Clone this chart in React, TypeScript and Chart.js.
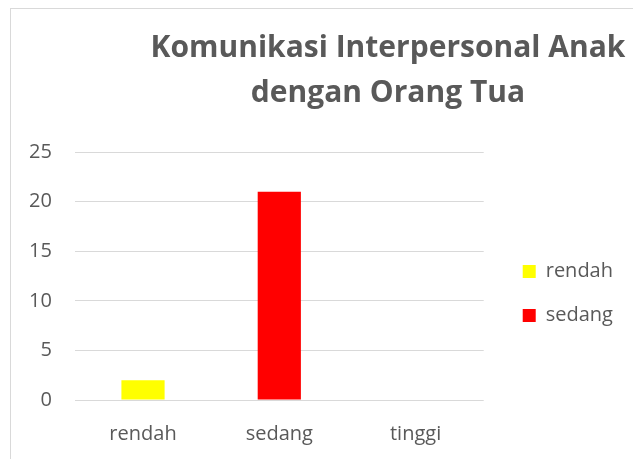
import React, { useEffect, useRef } from "react";
import { Chart, registerables } from "chart.js";

Chart.register(...registerables);

const categories = ["rendah", "sedang", "tinggi"];
const values = [2, 21, 0];
const barColors = ["#FFFF00", "#FF0000", "#FFC000"];
const legendLabels = ["rendah", "sedang"];
const legendColors = ["#FFFF00", "#FF0000"];
const yMin = 0;
const yMax = 25;
const yStep = 5;
const titleLines = ["Komunikasi Interpersonal Anak", "dengan Orang Tua"];

const TEXT = "#595959";
const GRID = "#d9d9d9";
const FONT = '"Open Sans", "Noto Sans", sans-serif';

const titlePlugin = {
  id: "excelTitle",
  afterDraw(chart: any) {
    const ctx = chart.ctx;
    ctx.save();
    ctx.font = `bold 30px ${FONT}`;
    ctx.fillStyle = TEXT;
    ctx.textAlign = "center";
    ctx.textBaseline = "alphabetic";
    titleLines.forEach((line, i) => ctx.fillText(line, 388, 57 + i * 45));
    ctx.restore();
  },
};

export default function App() {
  const ref = useRef<HTMLCanvasElement | null>(null);
  useEffect(() => {
    if (!ref.current) return;
    const chart = new Chart(ref.current, {
      type: "bar",
      data: {
        labels: categories,
        datasets: [
          {
            label: "Komunikasi",
            data: values,
            backgroundColor: barColors,
            borderWidth: 0,
            categoryPercentage: 1,
            barPercentage: 0.317,
          },
        ],
      },
      options: {
        animation: false,
        responsive: false,
        devicePixelRatio: 1,
        layout: { padding: { top: 152, bottom: 10, left: 29, right: 10 } },
        plugins: {
          title: { display: false },
          tooltip: { enabled: false },
          legend: {
            position: "right",
            align: "start",
            maxWidth: 200,
            onClick: () => {},
            title: {
              display: true,
              text: "",
              font: { family: FONT, size: 10, lineHeight: 1 },
              padding: { top: 75.5, bottom: 0 },
            },
            labels: {
              boxWidth: 13,
              boxHeight: 13,
              padding: 24,
              color: TEXT,
              font: { family: FONT, size: 20 },
              generateLabels: () =>
                legendLabels.map((t, i) => ({
                  text: t,
                  fillStyle: legendColors[i],
                  strokeStyle: legendColors[i],
                  lineWidth: 0,
                  hidden: false,
                  index: i,
                  fontColor: TEXT,
                })),
            },
          },
        },
        scales: {
          x: {
            grid: {
              display: true,
              drawOnChartArea: false,
              color: "transparent",
              tickColor: "transparent",
              drawTicks: true,
              tickLength: 20.4,
            },
            border: { display: false },
            ticks: {
              color: TEXT,
              font: { family: FONT, size: 20 },
              padding: 2.3,
              maxRotation: 0,
            },
          },
          y: {
            min: yMin,
            max: yMax,
            grid: {
              color: GRID,
              lineWidth: 1,
              tickColor: "transparent",
              drawTicks: true,
              tickLength: 23,
            },
            border: { display: false },
            ticks: {
              stepSize: yStep,
              color: TEXT,
              font: { family: FONT, size: 20 },
              padding: 0,
            },
          },
          spacer: {
            type: "linear",
            position: "right",
            display: true,
            grid: { display: false, drawTicks: false },
            border: { display: false },
            ticks: { display: false },
            afterFit: (s: any) => {
              s.width = 15;
            },
          },
        },
      },
      plugins: [titlePlugin],
    } as any);
    return () => chart.destroy();
  }, []);

  return (
    <div
      style={{
        position: "absolute",
        left: 0,
        top: 0,
        width: 633,
        height: 459,
        overflow: "hidden",
        background: "#ffffff",
      }}
    >
      <div
        style={{
          position: "absolute",
          left: 10,
          top: 8,
          width: 800,
          height: 600,
          border: `1px solid ${GRID}`,
        }}
      />
      <canvas
        ref={ref}
        width={633}
        height={459}
        style={{ position: "absolute", left: 0, top: 0, width: 633, height: 459 }}
      />
    </div>
  );
}
